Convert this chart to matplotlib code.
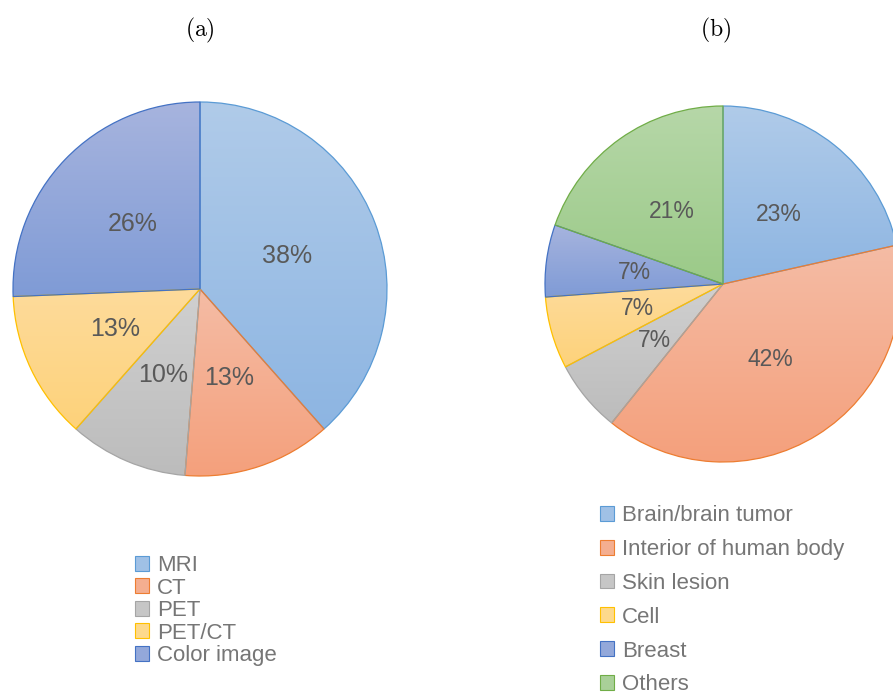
import matplotlib
matplotlib.use('Agg')
import matplotlib.pyplot as plt
import numpy as np
from matplotlib.colors import LinearSegmentedColormap
from matplotlib.patches import Patch

plt.rcParams['mathtext.fontset'] = 'cm'
plt.rcParams['font.family'] = ['Liberation Sans', 'DejaVu Sans']

# ---- data ----
# (a): slice sizes (counts of 39); labels show rounded percentages
cats_a = ['MRI', 'CT', 'PET', 'PET/CT', 'Color image']
vals_a = [15, 5, 4, 5, 10]
# (b): values as printed on the slices (labels show the values themselves)
cats_b = ['Brain/brain tumor', 'Interior of human body', 'Skin lesion', 'Cell', 'Breast', 'Others']
vals_b = [23, 42, 7, 7, 7, 21]
title_a = '(a)'
title_b = '(b)'

# ---- styles ----
keys_a = ['blue', 'orange', 'gray', 'yellow', 'navy']
keys_b = ['blue', 'orange', 'gray', 'yellow', 'navy', 'green']
top_col = {'blue': '#b0cbe9', 'orange': '#f5bca5', 'gray': '#d0d0d0', 'yellow': '#fedb9b',
           'navy': '#a7b4de', 'green': '#b6d7a8'}
bot_col = {'blue': '#8db5e2', 'orange': '#f4a07c', 'gray': '#bcbcbc', 'yellow': '#fdd27a',
           'navy': '#7f9bd6', 'green': '#9bca88'}
mid_col = {'blue': '#a0c1e6', 'orange': '#f4ae90', 'gray': '#c6c6c6', 'yellow': '#fdd98c',
           'navy': '#93a8da', 'green': '#a9d098'}
edge_col = {'blue': '#5b9bd5', 'orange': '#ed7d31', 'gray': '#a5a5a5', 'yellow': '#ffc000',
            'navy': '#4472c4', 'green': '#70ad47'}

W, H = 893, 694
fig = plt.figure(figsize=(W / 100, H / 100), dpi=100)


def make_ax(cx, cy, r):
    return fig.add_axes([(cx - r) / W, (H - cy - r) / H, 2 * r / W, 2 * r / H])


def draw_pie(ax, vals, keys, fs, fmt):
    wedges, texts, autotexts = ax.pie(
        vals, startangle=90, counterclock=False, radius=1,
        autopct=fmt, pctdistance=0.5,
        wedgeprops=dict(linewidth=0.9),
        textprops=dict(color='#595959', fontsize=fs))
    grad = np.linspace(0, 1, 256).reshape(-1, 1)
    for w, k in zip(wedges, keys):
        w.set_facecolor('none')
        w.set_edgecolor(edge_col[k])
        ext = w.get_path().get_extents()
        cmap = LinearSegmentedColormap.from_list('g' + k, [bot_col[k], top_col[k]])
        im = ax.imshow(grad, cmap=cmap, extent=(ext.x0, ext.x1, ext.y0, ext.y1),
                       origin='lower', aspect='auto', zorder=0.5, interpolation='bilinear')
        im.set_clip_path(w)
    for t in autotexts:
        t.set_zorder(5)
    ax.set_xlim(-1, 1)
    ax.set_ylim(-1, 1)
    ax.set_aspect('equal')
    ax.axis('off')


total_b = sum(vals_b)
ax_a = make_ax(200, 289, 187)
draw_pie(ax_a, vals_a, keys_a, 18, lambda p: f'{p:.0f}%')
ax_b = make_ax(723, 284, 178)
draw_pie(ax_b, vals_b, keys_b, 16.5, lambda p: f'{p * total_b / 100:.0f}%')

fig.text(200 / W, 1 - 30 / H, r'$\mathrm{' + title_a + '}$', ha='center', va='center', fontsize=17)
fig.text(716 / W, 1 - 30 / H, r'$\mathrm{' + title_b + '}$', ha='center', va='center', fontsize=17)

h_a = [Patch(facecolor=mid_col[k], edgecolor=edge_col[k], linewidth=0.8) for k in keys_a]
h_b = [Patch(facecolor=mid_col[k], edgecolor=edge_col[k], linewidth=0.8) for k in keys_b]

leg_kw = dict(loc='upper left', frameon=False, fontsize=16, handlelength=0.65,
              handleheight=0.65, handletextpad=0.35, borderpad=0, borderaxespad=0,
              labelcolor='#767676')
fig.legend(h_a, cats_a, bbox_to_anchor=(135 / W, 1 - 555 / H), labelspacing=0.07, **leg_kw)
fig.legend(h_b, cats_b, bbox_to_anchor=(600 / W, 1 - 505 / H), labelspacing=0.58, **leg_kw)

fig.savefig('out.png', dpi=100)
